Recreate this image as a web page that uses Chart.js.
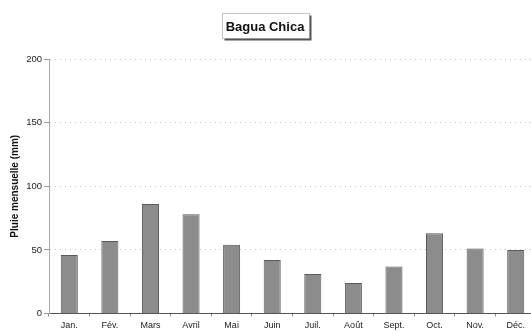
<!DOCTYPE html>
<html>
<head>
<meta charset="utf-8">
<script src="https://cdn.jsdelivr.net/npm/chart.js@4/dist/chart.umd.min.js"></script>
<style>
  html, body { margin: 0; padding: 0; background: #fff; overflow: hidden; }
  #wrap { position: relative; width: 536px; height: 332px; }
</style>
</head>
<body>
<div id="wrap"><canvas id="c" width="536" height="332"></canvas></div>
<script>
// Monthly rainfall at Bagua Chica (mm)
const months = ['Jan.', 'Fév.', 'Mars', 'Avril', 'Mai', 'Juin', 'Juil.', 'Août', 'Sept.', 'Oct.', 'Nov.', 'Déc.'];
const rainfall = [46, 57, 86, 78, 54, 42, 31, 24, 37, 63, 51, 50];
const yTicks = [0, 50, 100, 150, 200];
const chartTitle = 'Bagua Chica';
const yTitle = 'Pluie mensuelle (mm)';

const FONT = '"Liberation Sans", Arial, sans-serif';

// Boxed title with a small drop shadow, drawn above the plot
const boxedTitle = {
  id: 'boxedTitle',
  afterDraw(chart) {
    const ctx = chart.ctx;
    ctx.save();
    ctx.font = 'bold 13px ' + FONT;
    const w = ctx.measureText(chartTitle).width;
    const cx = 265, cy = 27;
    const bx = Math.round(cx - w / 2 - 4) + 0.5, by = 13.5, bw = Math.round(w + 8), bh = 25;
    ctx.fillStyle = '#555';
    ctx.fillRect(bx + 2, by + 2, bw, bh);
    ctx.fillStyle = '#fff';
    ctx.fillRect(bx, by, bw, bh);
    ctx.strokeStyle = '#888';
    ctx.lineWidth = 1;
    ctx.setLineDash([1, 1]);
    ctx.strokeRect(bx, by, bw, bh);
    ctx.setLineDash([]);
    ctx.fillStyle = '#111';
    ctx.textAlign = 'center';
    ctx.textBaseline = 'middle';
    ctx.fillText(chartTitle, cx, cy);
    ctx.restore();
  }
};

new Chart(document.getElementById('c'), {
  type: 'bar',
  data: {
    labels: months,
    datasets: [{
      data: rainfall,
      backgroundColor: '#8c8c8c',
      borderColor: '#5a5a5a',
      borderWidth: 1,
      barPercentage: 0.84,
      categoryPercentage: 0.5
    }]
  },
  options: {
    responsive: false,
    animation: false,
    layout: { padding: { top: 59, left: 0, right: 0, bottom: 0 } },
    plugins: {
      legend: { display: false },
      title: { display: false },
      tooltip: { enabled: false }
    },
    scales: {
      x: {
        grid: { drawOnChartArea: false, offset: true, tickLength: 3, color: '#888' },
        border: { display: true, color: '#555', dash: [1, 1], width: 1 },
        ticks: { font: { family: FONT, size: 9 }, color: '#222', padding: 4, maxRotation: 0, autoSkip: false },
        afterFit(scale) { scale.height = 18.5; }
      },
      y: {
        min: 0,
        max: 200,
        afterBuildTicks(scale) { scale.ticks = yTicks.map(v => ({ value: v })); },
        grid: { color: '#c4c4c4', tickLength: 5, tickColor: '#999' },
        border: { display: true, color: '#aaa', dash: [1, 4], width: 1 },
        ticks: { font: { family: FONT, size: 9.5 }, color: '#222', padding: 2 },
        title: { display: true, text: yTitle, font: { family: FONT, size: 10, weight: 'bold' }, color: '#111', padding: { top: 9, bottom: 2 } },
        afterFit(scale) { scale.width = 49; }
      }
    }
  },
  plugins: [boxedTitle]
});
</script>
</body>
</html>
